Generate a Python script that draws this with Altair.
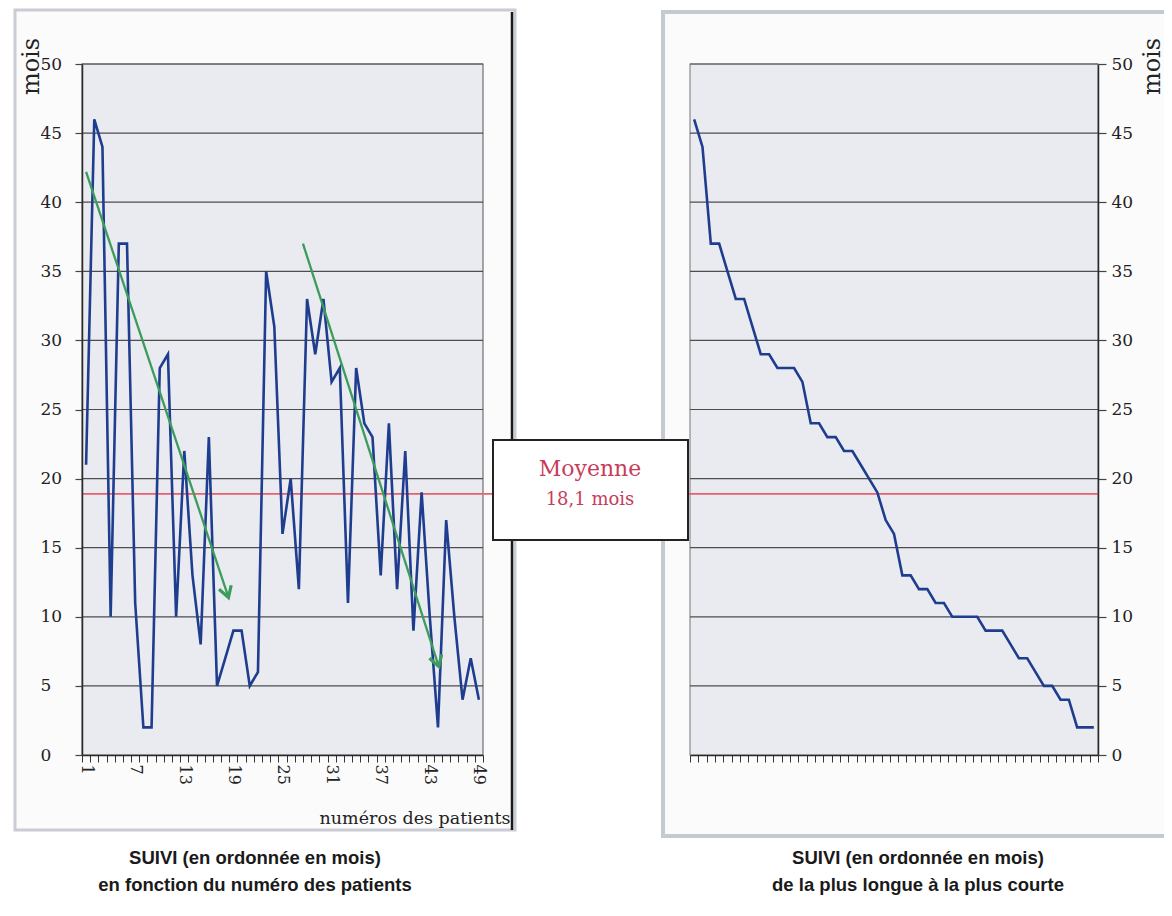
import math
import altair as alt
import pandas as pd

# ---------------- data ----------------
patients = list(range(1, 50))
suivi_mois = [21, 46, 44, 10, 37, 37, 11, 2, 2, 28, 29, 10, 22, 13, 8, 23, 5, 7, 9, 9,
              5, 6, 35, 31, 16, 20, 12, 33, 29, 33, 27, 28, 11, 28, 24, 23, 13, 24, 12, 22,
              9, 19, 10, 2, 17, 10, 4, 7, 4]
rangs = list(range(1, 50))
suivi_trie = [46, 44, 37, 37, 35, 33, 33, 31, 29, 29, 28, 28, 28, 27, 24, 24, 23, 23, 22, 22,
              21, 20, 19, 17, 16, 13, 13, 12, 12, 11, 11, 10, 10, 10, 10, 9, 9, 9, 8, 7,
              7, 6, 5, 5, 4, 4, 2, 2, 2]
y_graduations = [0, 5, 10, 15, 20, 25, 30, 35, 40, 45, 50]
x_etiquettes = [1, 7, 13, 19, 25, 31, 37, 43, 49]
x_limites = [0.5 + i for i in range(50)]
moyenne_niveau = [18.9]
moyenne_texte = ["Moyenne", "18,1 mois"]
fleche_id = ["a", "a", "b", "b"]
fleche_x = [1.0, 18.4, 27.5, 44.1]
fleche_y = [42.2, 11.4, 37.0, 6.4]
titre_gauche = ["SUIVI (en ordonnée en mois)", "en fonction du numéro des patients"]
titre_droite = ["SUIVI (en ordonnée en mois)", "de la plus longue à la plus courte"]

# ---------------- geometry / style ----------------
W, H = 1016, 691
LEFT_RANGE = [0, 401]
RIGHT_RANGE = [608, 1016]
SERIF = "DejaVu Serif"
BLUE = "#1f3d8f"
GREEN = "#3d9c5c"
RED = "#e4606e"
GRID = "#4d4d4d"
PLOT_BG = "#e9ebf0"


def xs(rng):
    return alt.Scale(domain=[0.5, 49.5], range=rng, nice=False, zero=False)


def ys():
    return alt.Scale(domain=[0, 50], nice=False, zero=False)


one = pd.DataFrame({"k": [0]})

# frames of the two panels
frame_left = alt.Chart(one).mark_rect(fill="#fbfbfc", stroke="#c9ccd3", strokeWidth=3).encode(
    x=alt.value(-67), x2=alt.value(433), y=alt.value(-54), y2=alt.value(766))
frame_left_edge = alt.Chart(one).mark_rule(color="#1a1a1a", strokeWidth=2.5).encode(
    x=alt.value(430), y=alt.value(-52), y2=alt.value(766))
frame_right = alt.Chart(one).mark_rect(fill="#fbfbfc", stroke="#c5c9d1", strokeWidth=4).encode(
    x=alt.value(581), x2=alt.value(1088), y=alt.value(-52), y2=alt.value(772))

# plot backgrounds (with bottom tick axes)
bg_df = pd.DataFrame({"x0": [x_limites[0]], "x1": [x_limites[-1]],
                      "y0": [y_graduations[0]], "y1": [y_graduations[-1]]})


def tick_axis():
    return alt.Axis(orient="bottom", values=x_limites, labels=False, ticks=True, tickSize=7,
                    tickColor="#333", tickWidth=1, domain=True, domainColor="#2a2a2a",
                    domainWidth=1.5, grid=False, title=None, zindex=1)


bg_left = alt.Chart(bg_df).mark_rect(fill=PLOT_BG, stroke="#707070", strokeWidth=1.2).encode(
    x=alt.X("x0:Q", scale=xs(LEFT_RANGE), axis=tick_axis()), x2="x1:Q",
    y=alt.Y("y0:Q", scale=ys(), axis=None), y2="y1:Q")
bg_right = alt.Chart(bg_df).mark_rect(fill=PLOT_BG, stroke="#8a8a8a", strokeWidth=1.2).encode(
    x=alt.X("x0:Q", scale=xs(RIGHT_RANGE), axis=tick_axis()), x2="x1:Q",
    y=alt.Y("y0:Q", scale=ys(), axis=None), y2="y1:Q")

# gridlines
grid_df = pd.DataFrame({"y": y_graduations[1:], "x0": x_limites[0], "x1": x_limites[-1]})
grid_left = alt.Chart(grid_df).mark_rule(color=GRID, strokeWidth=1.2).encode(
    x=alt.X("x0:Q", scale=xs(LEFT_RANGE), axis=None), x2="x1:Q",
    y=alt.Y("y:Q", scale=ys(), axis=None))
grid_right = alt.Chart(grid_df).mark_rule(color=GRID, strokeWidth=1.2).encode(
    x=alt.X("x0:Q", scale=xs(RIGHT_RANGE), axis=None), x2="x1:Q",
    y=alt.Y("y:Q", scale=ys(), axis=None))

# mean line (runs behind the central box)
mean_line = alt.Chart(pd.DataFrame({"y": moyenne_niveau})).mark_rule(color=RED, strokeWidth=1.8).encode(
    x=alt.value(0), x2=alt.value(W), y=alt.Y("y:Q", scale=ys(), axis=None))

# data lines
left_df = pd.DataFrame({"patient": patients, "mois": suivi_mois})
right_df = pd.DataFrame({"rang": rangs, "mois": suivi_trie})

left_y_axis = alt.Axis(orient="left", values=y_graduations, grid=False, domain=True,
                       domainColor="#2a2a2a", domainWidth=1.5, ticks=True, tickColor="#444",
                       tickSize=7, tickWidth=1.2, labelFont=SERIF, labelFontSize=17,
                       labelColor="#222", labelAlign="left", labelBaseline="middle",
                       labelPadding=35, title="mois", titleFont=SERIF, titleFontSize=24,
                       titleFontWeight="normal", titleColor="#222", titleAngle=-90,
                       titleX=-51, titleY=2, titleAlign="center", titleBaseline="middle",
                       zindex=1)
right_y_axis = alt.Axis(orient="right", values=y_graduations, grid=False, domain=True,
                        domainColor="#2a2a2a", domainWidth=1.5, ticks=True, tickColor="#444",
                        tickSize=8, tickWidth=1.2, labelFont=SERIF, labelFontSize=17,
                        labelColor="#222", labelAlign="left", labelBaseline="middle",
                        labelPadding=5, title="mois", titleFont=SERIF, titleFontSize=24,
                        titleFontWeight="normal", titleColor="#222", titleAngle=-90,
                        titleX=54, titleY=2, titleAlign="center", titleBaseline="middle",
                        zindex=1)

line_left = alt.Chart(left_df).mark_line(color=BLUE, strokeWidth=2.6).encode(
    x=alt.X("patient:Q", scale=xs(LEFT_RANGE), axis=None),
    y=alt.Y("mois:Q", scale=ys(), axis=left_y_axis))
line_right = alt.Chart(right_df).mark_line(color=BLUE, strokeWidth=2.6).encode(
    x=alt.X("rang:Q", scale=xs(RIGHT_RANGE), axis=None),
    y=alt.Y("mois:Q", scale=ys(), axis=right_y_axis))

# green trend arrows (carry the labelled x axis of the left panel)
arrow_df = pd.DataFrame({"fleche": fleche_id, "x": fleche_x, "y": fleche_y})
label_axis = alt.Axis(orient="bottom", values=x_etiquettes, ticks=False, tickSize=0, domain=False,
                      grid=False, labelAngle=90, labelAlign="left", labelBaseline="middle",
                      labelPadding=9, labelFlush=False, labelFont=SERIF, labelFontSize=16,
                      labelColor="#222", title="numéros des patients", titleFont=SERIF,
                      titleFontSize=17.5, titleFontWeight="normal", titleColor="#222",
                      titleX=428, titleY=63, titleAlign="right", titleBaseline="middle",
                      zindex=1)
arrows = alt.Chart(arrow_df).mark_line(color=GREEN, strokeWidth=2.3).encode(
    x=alt.X("x:Q", scale=xs(LEFT_RANGE), axis=label_axis),
    y=alt.Y("y:Q", scale=ys(), axis=None),
    detail="fleche:N")

sx = (LEFT_RANGE[1] - LEFT_RANGE[0]) / 49.0
sy = H / 50.0
heads = []
for k in range(0, len(fleche_x), 2):
    dx = (fleche_x[k + 1] - fleche_x[k]) * sx
    dy = (fleche_y[k] - fleche_y[k + 1]) * sy
    ang = (-math.degrees(math.atan2(dx, dy))) % 360
    heads.append({"x": fleche_x[k + 1], "y": fleche_y[k + 1], "angle": ang})
head_df = pd.DataFrame(heads)
arrow_heads = alt.Chart(head_df).mark_point(
    shape="M -0.6 -1 L 0 0 L 0.6 -1", filled=False, color=GREEN, strokeWidth=3.2, size=460,
    opacity=1).encode(
    x=alt.X("x:Q", scale=xs(LEFT_RANGE), axis=None),
    y=alt.Y("y:Q", scale=ys(), axis=None),
    angle=alt.Angle("angle:Q", scale=None))

# central box
box = alt.Chart(one).mark_rect(fill="white", stroke="#222", strokeWidth=2).encode(
    x=alt.value(411), x2=alt.value(606), y=alt.value(376), y2=alt.value(476))
box_t1 = alt.Chart(one).mark_text(text=moyenne_texte[0], font=SERIF, fontSize=22,
                                  color="#c83c5a", align="center", baseline="middle").encode(
    x=alt.value(508), y=alt.value(405))
box_t2 = alt.Chart(one).mark_text(text=moyenne_texte[1], font=SERIF, fontSize=18,
                                  color="#c83c5a", align="center", baseline="middle").encode(
    x=alt.value(508), y=alt.value(436))

# captions
CAP_FONT = "Liberation Sans"


def caption(txt, xpix, ypix):
    return alt.Chart(one).mark_text(text=txt, font=CAP_FONT, fontSize=18.5, fontWeight="bold",
                                    color="#1a1a1a", align="center", baseline="middle").encode(
        x=alt.value(xpix), y=alt.value(ypix))


caps = [caption(titre_gauche[0], 173, 794), caption(titre_gauche[1], 173, 821),
        caption(titre_droite[0], 836, 794), caption(titre_droite[1], 836, 821)]

chart = alt.layer(
    frame_left, frame_right, frame_left_edge,
    bg_left, bg_right, grid_left, grid_right,
    mean_line, line_left, line_right, arrows, arrow_heads,
    box, box_t1, box_t2, *caps
).resolve_scale(x="independent", y="independent").properties(
    width=W, height=H,
    autosize=alt.AutoSizeParams(type="none"),
    padding={"left": 74, "top": 56, "right": 66, "bottom": 145},
    background="white",
).configure_view(stroke=None)

chart.save("out.html", embed_options={"renderer": "svg", "actions": False})
